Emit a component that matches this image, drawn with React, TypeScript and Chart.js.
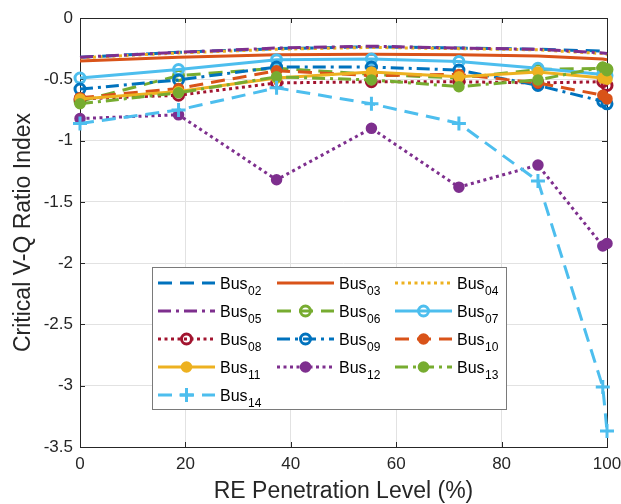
import { useEffect, useRef } from 'react';
import { Chart, registerables } from 'chart.js';

Chart.register(...registerables);

const xLevels = [0, 18.7, 37.3, 55.3, 71.9, 86.9, 99.2, 100];
const bus02 = [-0.32, -0.28, -0.25, -0.235, -0.245, -0.255, -0.27, -0.27];
const bus03 = [-0.35, -0.32, -0.3, -0.295, -0.3, -0.31, -0.335, -0.34];
const bus04 = [-0.325, -0.285, -0.255, -0.24, -0.25, -0.26, -0.29, -0.3];
const bus05 = [-0.32, -0.28, -0.245, -0.23, -0.245, -0.255, -0.285, -0.29];
const bus06 = [-0.68, -0.47, -0.41, -0.46, -0.49, -0.42, -0.41, -0.42];
const bus07 = [-0.49, -0.42, -0.34, -0.335, -0.355, -0.41, -0.46, -0.47];
const bus08 = [-0.66, -0.63, -0.53, -0.52, -0.52, -0.53, -0.52, -0.55];
const bus09 = [-0.58, -0.505, -0.4, -0.4, -0.425, -0.55, -0.68, -0.7];
const bus10 = [-0.65, -0.575, -0.43, -0.47, -0.46, -0.53, -0.63, -0.66];
const bus11 = [-0.66, -0.6, -0.49, -0.44, -0.48, -0.44, -0.49, -0.5];
const bus12 = [-0.82, -0.79, -1.32, -0.9, -1.38, -1.2, -1.86, -1.84];
const bus13 = [-0.7, -0.61, -0.48, -0.505, -0.56, -0.505, -0.4, -0.43];
const bus14 = [-0.86, -0.75, -0.57, -0.7, -0.86, -1.33, -3.01, -3.37];

const busIds = ['02', '03', '04', '05', '06', '07', '08', '09', '10', '11', '12', '13', '14'];
const busValues = [bus02, bus03, bus04, bus05, bus06, bus07, bus08, bus09, bus10, bus11, bus12, bus13, bus14];

const xTicks = [0, 20, 40, 60, 80, 100];
const yTicks = [0, -0.5, -1, -1.5, -2, -2.5, -3, -3.5];

const xTitle = 'RE Penetration Level (%)';
const yTitle = 'Critical V-Q Ratio Index';

const BLUE = '#0072BD';
const ORANGE = '#D95319';
const YELLOW = '#EDB120';
const PURPLE = '#7E2F8E';
const GREEN = '#77AC30';
const LBLUE = '#4DBEEE';
const RED = '#A2142F';

const DASH = [14, 8];
const DOT = [3, 3.5];
const DASHDOT = [13, 5, 3, 5];
const SOLID: number[] = [];

type Marker = 'none' | 'open' | 'filled' | 'plus';
const styles: { color: string; dash: number[]; marker: Marker }[] = [
  { color: BLUE, dash: DASH, marker: 'none' },
  { color: ORANGE, dash: SOLID, marker: 'none' },
  { color: YELLOW, dash: DOT, marker: 'none' },
  { color: PURPLE, dash: DASHDOT, marker: 'none' },
  { color: GREEN, dash: DASH, marker: 'open' },
  { color: LBLUE, dash: SOLID, marker: 'open' },
  { color: RED, dash: DOT, marker: 'open' },
  { color: BLUE, dash: DASHDOT, marker: 'open' },
  { color: ORANGE, dash: DASH, marker: 'filled' },
  { color: YELLOW, dash: SOLID, marker: 'filled' },
  { color: PURPLE, dash: DOT, marker: 'filled' },
  { color: GREEN, dash: DASHDOT, marker: 'filled' },
  { color: LBLUE, dash: DASH, marker: 'plus' },
];

const FONT = '"Liberation Sans", Arial, sans-serif';
const AXIS = '#262626';
const LW = 3;

function drawMarker(ctx: CanvasRenderingContext2D, m: Marker, color: string, x: number, y: number) {
  ctx.save();
  ctx.setLineDash([]);
  if (m === 'open') {
    ctx.strokeStyle = color;
    ctx.lineWidth = 3;
    ctx.beginPath();
    ctx.arc(x, y, 5, 0, Math.PI * 2);
    ctx.stroke();
  } else if (m === 'filled') {
    ctx.fillStyle = color;
    ctx.beginPath();
    ctx.arc(x, y, 5.8, 0, Math.PI * 2);
    ctx.fill();
  } else if (m === 'plus') {
    ctx.strokeStyle = color;
    ctx.lineWidth = 3;
    ctx.beginPath();
    ctx.moveTo(x - 7, y);
    ctx.lineTo(x + 7, y);
    ctx.moveTo(x, y - 7);
    ctx.lineTo(x, y + 7);
    ctx.stroke();
  }
  ctx.restore();
}

const framePlugin = {
  id: 'frame',
  beforeDatasetsDraw(chart: any) {
    const { ctx, chartArea } = chart;
    const { left, right, top, bottom } = chartArea;
    ctx.save();
    ctx.strokeStyle = AXIS;
    ctx.lineWidth = 1;
    ctx.setLineDash([]);
    ctx.strokeRect(Math.round(left) + 0.5, Math.round(top) + 0.5, Math.round(right - left), Math.round(bottom - top));
    const tl = 5;
    ctx.beginPath();
    for (const v of xTicks) {
      const px = Math.round(chart.scales.x.getPixelForValue(v)) + 0.5;
      ctx.moveTo(px, bottom);
      ctx.lineTo(px, bottom - tl);
      ctx.moveTo(px, top);
      ctx.lineTo(px, top + tl);
    }
    for (const v of yTicks) {
      const py = Math.round(chart.scales.y.getPixelForValue(v)) + 0.5;
      ctx.moveTo(left, py);
      ctx.lineTo(left + tl, py);
      ctx.moveTo(right, py);
      ctx.lineTo(right - tl, py);
    }
    ctx.stroke();
    ctx.restore();
  },
};

const legendPlugin = {
  id: 'busLegend',
  afterDatasetsDraw(chart: any) {
    const ctx: CanvasRenderingContext2D = chart.ctx;
    const bx = 152.5, by = 267.5, bw = 354, bh = 142;
    ctx.save();
    ctx.fillStyle = '#ffffff';
    ctx.fillRect(bx, by, bw, bh);
    ctx.strokeStyle = '#7a7a7a';
    ctx.lineWidth = 1;
    ctx.setLineDash([]);
    ctx.strokeRect(bx, by, bw, bh);
    const colX = [158, 277, 395];
    const rowY = [283, 311, 339, 367, 395];
    const sampleW = 57;
    busIds.forEach((id, i) => {
      const st = styles[i];
      const c = i % 3;
      const r = Math.floor(i / 3);
      const x0 = colX[c];
      const y0 = rowY[r];
      ctx.save();
      ctx.strokeStyle = st.color;
      ctx.lineWidth = LW;
      ctx.setLineDash(st.dash);
      ctx.beginPath();
      ctx.moveTo(x0, y0);
      ctx.lineTo(x0 + sampleW, y0);
      ctx.stroke();
      ctx.restore();
      drawMarker(ctx, st.marker, st.color, x0 + sampleW / 2, y0);
      const tx = x0 + sampleW + 5;
      ctx.fillStyle = '#000000';
      ctx.textAlign = 'left';
      ctx.textBaseline = 'alphabetic';
      ctx.font = `16px ${FONT}`;
      ctx.fillText('Bus', tx, y0 + 6);
      const w = ctx.measureText('Bus').width;
      ctx.font = `12px ${FONT}`;
      ctx.fillText(id, tx + w + 0.5, y0 + 11.5);
    });
    ctx.restore();
  },
};

export default function App() {
  const ref = useRef<HTMLCanvasElement>(null);
  useEffect(() => {
    document.body.style.margin = '0';
    const datasets = busIds.map((id, i) => {
      const st = styles[i];
      const vals = busValues[i];
      const m = st.marker;
      return {
        label: 'Bus' + id,
        data: xLevels.map((x, k) => ({ x, y: vals[k] })),
        borderColor: st.color,
        backgroundColor: st.color,
        borderWidth: LW,
        borderDash: st.dash,
        borderCapStyle: 'butt' as const,
        tension: 0,
        clip: false as any,
        order: 100 - i,
        pointStyle: m === 'plus' ? 'cross' : 'circle',
        pointRadius: m === 'none' ? 0 : m === 'plus' ? 7 : m === 'open' ? 5 : 4.5,
        pointHoverRadius: m === 'none' ? 0 : 6,
        pointBorderWidth: m === 'filled' ? 2.5 : 3,
        pointBackgroundColor: m === 'open' ? 'rgba(0,0,0,0)' : st.color,
        pointBorderColor: st.color,
      };
    });
    const chart = new Chart(ref.current!, {
      type: 'line',
      data: { datasets },
      options: {
        animation: false,
        responsive: false,
        devicePixelRatio: 1,
        layout: { padding: { left: 0, right: 14, top: 18, bottom: 0 } },
        plugins: { legend: { display: false }, tooltip: { enabled: false } },
        scales: {
          x: {
            type: 'linear',
            min: 0,
            max: 100,
            afterFit: (s: any) => { s.height = 57; s.paddingLeft = 0; s.paddingRight = 0; },
            afterBuildTicks: (s: any) => { s.ticks = xTicks.map((v) => ({ value: v })); },
            ticks: { color: AXIS, font: { family: FONT, size: 17 }, padding: 7, maxRotation: 0, callback: (v: any) => String(v) },
            grid: { color: '#e2e2e2', lineWidth: 1, drawTicks: false },
            border: { display: false },
            title: { display: true, text: xTitle, color: AXIS, font: { family: FONT, size: 23, lineHeight: 1 }, padding: { top: 0, bottom: 1 } },
          },
          y: {
            type: 'linear',
            min: -3.5,
            max: 0,
            afterFit: (s: any) => { s.width = 80; s.paddingTop = 0; s.paddingBottom = 0; },
            afterBuildTicks: (s: any) => { s.ticks = yTicks.map((v) => ({ value: v })); },
            ticks: { color: AXIS, font: { family: FONT, size: 17 }, padding: 7, callback: (v: any) => String(Math.round(Number(v) * 10) / 10) },
            grid: { color: '#e2e2e2', lineWidth: 1, drawTicks: false },
            border: { display: false },
            title: { display: true, text: yTitle, color: AXIS, font: { family: FONT, size: 23, lineHeight: 1 }, padding: { top: 12, bottom: 0 } },
          },
        },
      },
      plugins: [framePlugin, legendPlugin],
    } as any);
    return () => chart.destroy();
  }, []);
  return (
    <div style={{ position: 'absolute', left: 0, top: 0, width: 621, height: 504, background: '#ffffff' }}>
      <canvas ref={ref} width={621} height={504} style={{ display: 'block' }} />
    </div>
  );
}
